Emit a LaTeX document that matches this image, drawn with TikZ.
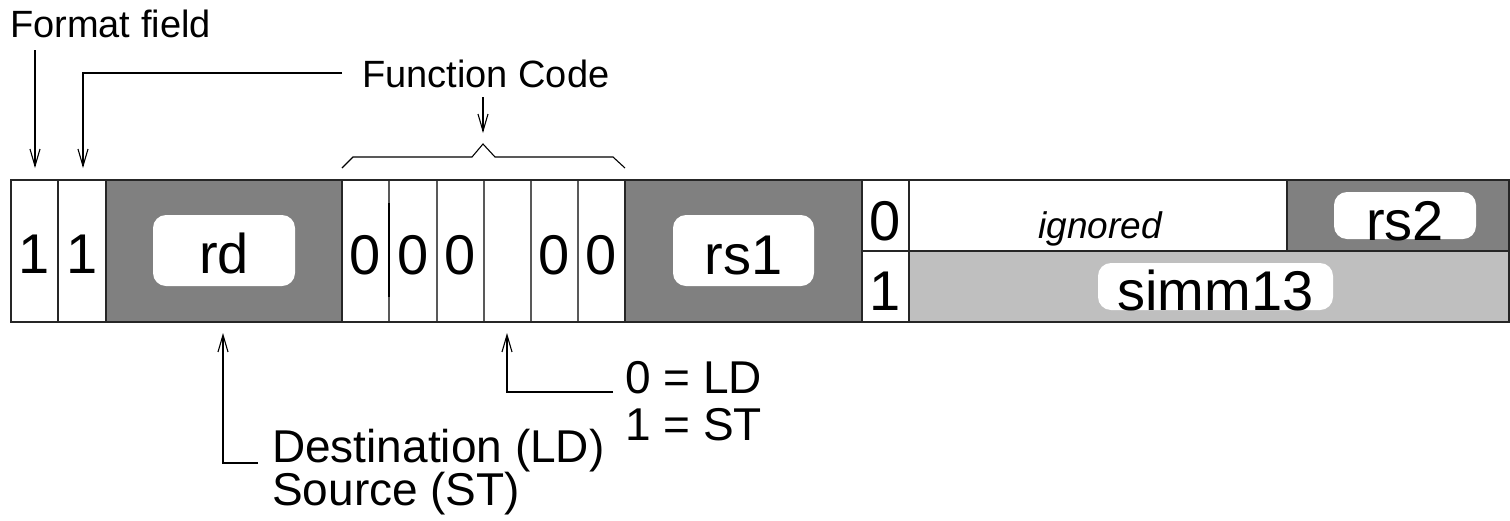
\documentclass[tikz,border=0pt]{standalone}
\usepackage{fontspec}
\setmainfont{Liberation Sans}
\usetikzlibrary{arrows.meta}
\definecolor{darkfield}{gray}{0.5}
\definecolor{lightfield}{gray}{0.75}
\definecolor{celline}{gray}{0.35}

\begin{document}
\begin{tikzpicture}[x=1pt,y=-1pt,
  bitval/.style={inner sep=0pt, anchor=base, font=\fontsize{56}{60}\selectfont},
  fieldtag/.style={inner sep=0pt, anchor=base, font=\fontsize{56}{60}\selectfont},
  pill/.style={fill=white, rounded corners=13pt},
  note/.style={inner sep=0pt, anchor=base west, font=\fontsize{38}{42}\selectfont},
  bignote/.style={inner sep=0pt, anchor=base west, font=\fontsize{46}{43}\selectfont},
  pointer/.style={line width=1.1pt, -{Straight Barb[length=17pt,width=10pt,line width=1.1pt]}},
  outline/.style={line width=1.6pt, black!85},
  thincell/.style={line width=1.2pt, celline},
]
\useasboundingbox (0,0) rectangle (1510,520);

% ---- field fills
\fill[darkfield] (106,180) rectangle (342,322);
\fill[darkfield] (625,180) rectangle (862,322);
\fill[darkfield] (1287,180) rectangle (1510,251);
\fill[lightfield] (909,251) rectangle (1510,322);

% ---- white name tags
\fill[pill] (153,215) rectangle (295,286);
\fill[pill] (673,215) rectangle (814,286);
\fill[pill] (1334,192) rectangle (1476,239);
\fill[pill] (1098,263) rectangle (1333,310);

% ---- cell borders
\foreach \cx in {389,437,484,531,578}
  \draw[thincell] (\cx,180) -- (\cx,322);
\draw[line width=2.2pt] (389,203) -- (389,297);
\foreach \cx in {58,106,342,625,862,909}
  \draw[outline] (\cx,180) -- (\cx,322);
\draw[outline] (862,251) -- (1510,251);
\draw[outline] (1287,180) -- (1287,251);
\draw[outline] (11,180) rectangle (1509.2,322);

% ---- cell contents
\node[bitval] (op1) at (34.5,273) {1};
\node[bitval] (op0) at (82,273) {1};
\node[fieldtag] (rd) at (224,273) {rd};
\node[bitval] (f5) at (365.5,274) {0};
\node[bitval] (f4) at (413,274) {0};
\node[bitval] (f3) at (460.5,274) {0};
\node[bitval] (f1) at (554.5,274) {0};
\node[bitval] (f0) at (601.5,274) {0};
\node[fieldtag] (rs1) at (743.5,274) {rs1};
\node[bitval] (ibit0) at (885.5,240) {0};
\node[bitval] (ibit1) at (885.5,310) {1};
\node[inner sep=0pt, anchor=base, font=\fontsize{37}{40}\selectfont\itshape] (ign) at (1100,238) {ignored};
\node[fieldtag] (rs2) at (1405,240) {rs2};
\node[fieldtag] (simm) at (1215.5,310) {simm13};

% ---- labels above
\node[note] (fmt) at (10,37) {Format field};
\node[note] (fcode) at (362,87) {Function Code};

\coordinate (fmtfoot) at (35,50);
\coordinate (op1top) at (35,168);
\coordinate (op0start) at (342,73);
\coordinate (op0bend) at (83,73);
\coordinate (op0top) at (83,168);
\coordinate (fcfoot) at (483,97);
\coordinate (bracepeak) at (483,133);

\draw[pointer] (fmtfoot) -- (op1top);
\draw[pointer] (op0start) -- (op0bend) -- (op0top);
\draw[pointer] (fcfoot) -- (bracepeak);
\draw[line width=1.1pt, line join=miter]
  (342,168) -- (353,157) -- (472,157) -- (483,144) -- (495,157) -- (613,157) -- (625,168);

% ---- labels below
\node[bignote] (dst) at (272,462) {Destination (LD)};
\node[bignote] (src) at (272,505) {Source (ST)};
\node[bignote] (ld) at (625,393) {0 = LD};
\node[bignote] (st) at (625,440) {1 = ST};

\coordinate (rdbot) at (223,333);
\coordinate (rdbend) at (223,463);
\coordinate (rdlead) at (258,463);
\coordinate (lsbot) at (507,333);
\coordinate (lsbend) at (507,392);
\coordinate (lslead) at (613,392);

\draw[pointer] (rdlead) -- (rdbend) -- (rdbot);
\draw[pointer] (lslead) -- (lsbend) -- (lsbot);
\end{tikzpicture}
\end{document}
